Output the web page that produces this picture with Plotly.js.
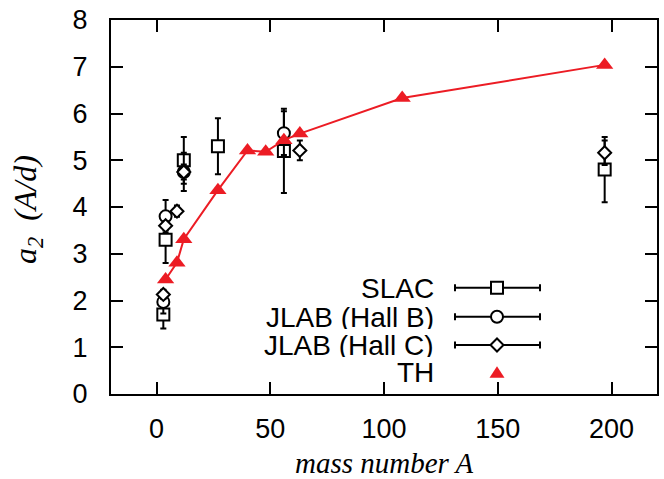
<!DOCTYPE html>
<html>
<head>
<meta charset="utf-8">
<script src="https://cdn.plot.ly/plotly-3.0.1.min.js"></script>
<style>html,body{margin:0;padding:0;background:#fff;}#chart{width:664px;height:479px;}</style>
</head>
<body>
<div id="chart"></div>
<script>
// ---- data ----
const seriesNames = ["SLAC", "JLAB (Hall B)", "JLAB (Hall C)", "TH"];

const slacA   = [3, 4, 12, 27, 56, 197];
const slacA2  = [1.7, 3.3, 5.0, 5.3, 5.2, 4.8];
const slacErr = [0.3, 0.5, 0.5, 0.6, 0.9, 0.7];

const hallBA   = [3, 4, 12, 56];
const hallBA2  = [1.97, 3.80, 4.75, 5.58];
const hallBErr = [0.25, 0.35, 0.41, 0.47];

const hallCA   = [3, 4, 9, 12, 63, 197];
const hallCA2  = [2.13, 3.60, 3.91, 4.75, 5.21, 5.16];
const hallCErr = [0.10, 0.10, 0.12, 0.16, 0.21, 0.26];

const thA  = [4, 9, 12, 27, 40, 48, 56, 63, 108, 197];
const thA2 = [2.45, 2.81, 3.31, 4.36, 5.21, 5.18, 5.43, 5.57, 6.33, 7.04];

const xTicks = [0, 50, 100, 150, 200];
const yTicks = [0, 1, 2, 3, 4, 5, 6, 7, 8];

// ---- styling ----
const RED = '#ec1c24';
const FONT = 'Liberation Sans, Arial, Helvetica, sans-serif';
const SERIF = 'Liberation Serif, Times New Roman, serif';

function expTrace(x, y, e, symbol, size) {
  return {
    x: x, y: y, type: 'scatter', mode: 'markers', showlegend: false,
    marker: {symbol: symbol, size: size, color: '#ffffff', line: {color: '#000', width: 2}},
    error_y: {type: 'data', array: e, visible: true, color: '#000', thickness: 2, width: 3}
  };
}

const traces = [
  expTrace(slacA, slacA2, slacErr, 'square', 12),
  expTrace(hallBA, hallBA2, hallBErr, 'circle', 12),
  expTrace(hallCA, hallCA2, hallCErr, 'diamond', 10),
  {x: thA, y: thA2, type: 'scatter', mode: 'lines+markers', showlegend: false,
   line: {color: RED, width: 2},
   marker: {symbol: 'triangle-up', size: 15, color: RED}}
];

// ---- manual gnuplot-style key (text left, sample right) ----
const L = 111, R = 657, T = 20, B = 394;
const px = v => (v - L) / (R - L);
const py = v => (B - v) / (B - T);
const rowsY = [287.7, 316.7, 345, 372.3];
const textRight = 436, lineX0 = 455, lineX1 = 540, markX = 497;

const annotations = [];
const shapes = [];
seriesNames.forEach((name, i) => {
  annotations.push({
    text: name, xref: 'paper', yref: 'paper', x: px(textRight), y: py(rowsY[i]),
    xanchor: 'right', yanchor: 'middle', showarrow: false, height: 24, valign: 'middle',
    font: {family: FONT, size: 28, color: '#000'}
  });
  const yy = py(rowsY[i]);
  const mx = px(markX);
  if (i < 3) {
    shapes.push({type: 'line', xref: 'paper', yref: 'paper', x0: px(lineX0), x1: px(lineX1), y0: yy, y1: yy,
                 line: {color: '#000', width: 2}});
    [lineX0, lineX1].forEach(cx => shapes.push({
      type: 'line', xref: 'paper', yref: 'paper', ysizemode: 'pixel', yanchor: yy,
      x0: px(cx), x1: px(cx), y0: -3.5, y1: 3.5, line: {color: '#000', width: 2}}));
    const base = {xref: 'paper', yref: 'paper', xsizemode: 'pixel', ysizemode: 'pixel',
                  xanchor: mx, yanchor: yy, fillcolor: '#fff', line: {color: '#000', width: 2}};
    if (i === 0) shapes.push(Object.assign({type: 'rect', x0: -6, x1: 6, y0: -6, y1: 6}, base));
    if (i === 1) shapes.push(Object.assign({type: 'circle', x0: -6, x1: 6, y0: -6, y1: 6}, base));
    if (i === 2) shapes.push(Object.assign({type: 'path', path: 'M -6.5 0 L 0 6.5 L 6.5 0 L 0 -6.5 Z'}, base));
  } else {
    shapes.push({type: 'path', xref: 'paper', yref: 'paper', xsizemode: 'pixel', ysizemode: 'pixel',
                 xanchor: mx, yanchor: yy, path: 'M -7.5 -5.5 L 7.5 -5.5 L 0 6 Z',
                 fillcolor: RED, line: {color: RED, width: 0}});
  }
});

// axis titles
annotations.push({
  text: 'mass number A', xref: 'paper', yref: 'paper', x: 0.5, y: py(463),
  xanchor: 'center', yanchor: 'middle', showarrow: false, height: 24, valign: 'middle',
  font: {family: SERIF, size: 29, color: '#000', style: 'italic'}
});
annotations.push({
  text: 'a<sub>2</sub>  (A/d)', xref: 'paper', yref: 'paper', x: px(27), y: py(210),
  xanchor: 'center', yanchor: 'middle', showarrow: false, textangle: -90,
  font: {family: SERIF, size: 32, color: '#000', style: 'italic'}
});

const axisCommon = {
  showgrid: false, zeroline: false, showline: true, linecolor: '#000', linewidth: 2,
  mirror: 'ticks', ticks: 'inside', ticklen: 12, tickwidth: 2, tickcolor: '#000',
  tickfont: {family: FONT, size: 27, color: '#000'}, tickmode: 'array'
};

const layout = {
  width: 664, height: 479,
  margin: {l: L, r: 664 - R, t: T, b: 479 - B, pad: 0},
  paper_bgcolor: '#fff', plot_bgcolor: '#fff',
  showlegend: false,
  xaxis: Object.assign({}, axisCommon, {range: [-20, 220], tickvals: xTicks, ticktext: xTicks.map(String),
                        ticklabelstandoff: 10}),
  yaxis: Object.assign({}, axisCommon, {range: [0, 8], tickvals: yTicks, ticktext: yTicks.map(String),
                        ticklabelstandoff: 16}),
  annotations: annotations,
  shapes: shapes
};

Plotly.newPlot('chart', traces, layout, {displayModeBar: false, staticPlot: true});
</script>
</body>
</html>
